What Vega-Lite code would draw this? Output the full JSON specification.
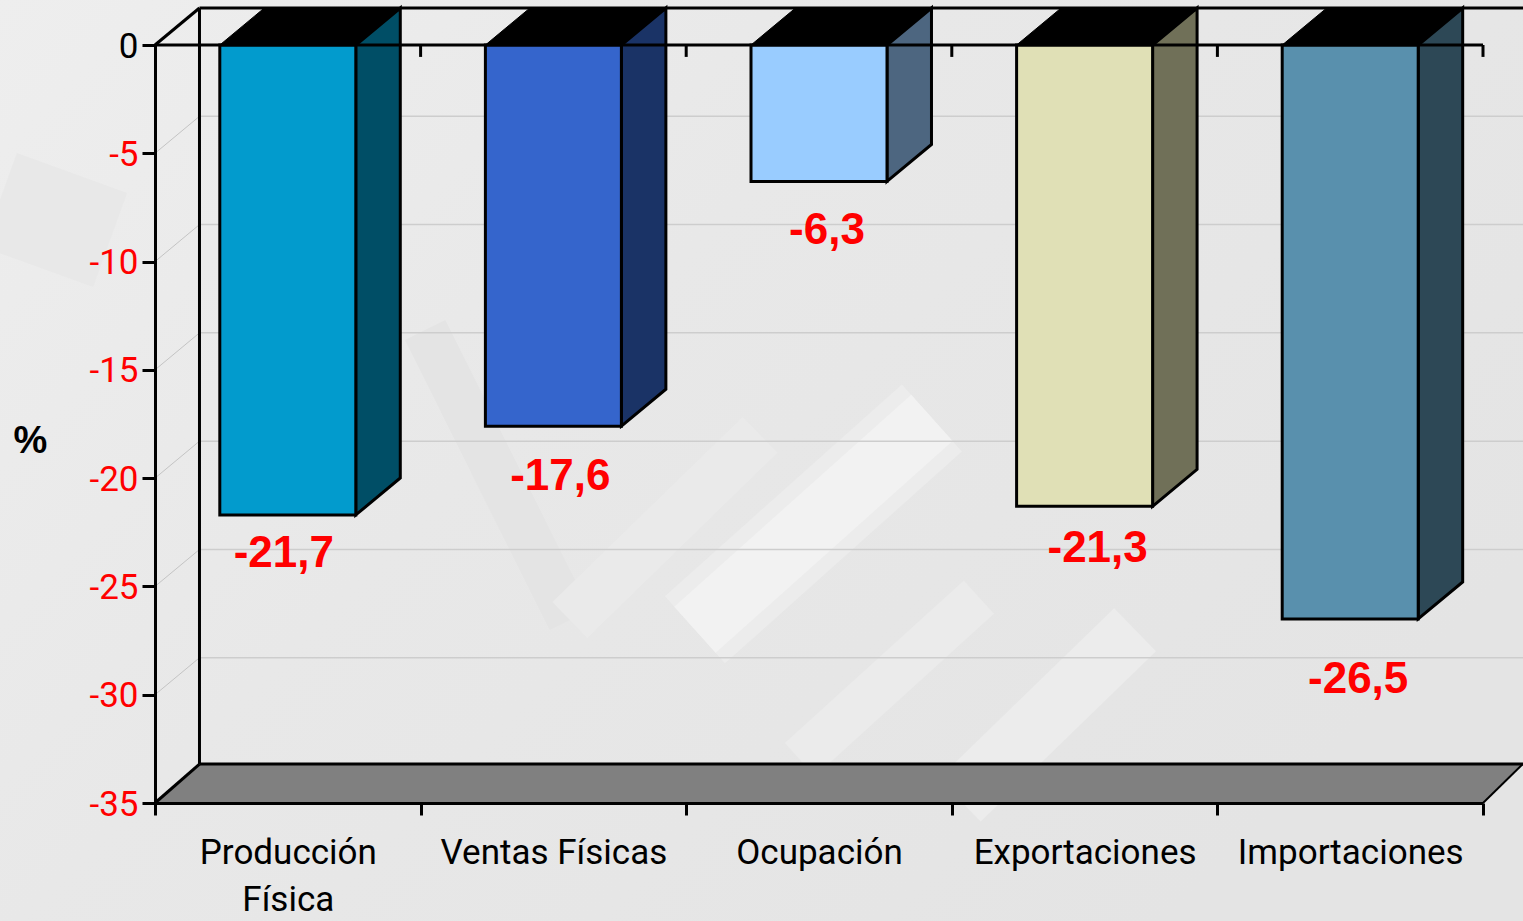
{
"$schema":"https://vega.github.io/schema/vega-lite/v6.json",
"width":1328,"height":758,
"autosize":"none",
"padding":{"left":155,"top":45,"right":40,"bottom":118},
"background":"#e8e8e8",
"config":{"view":{"stroke":null}},
"datasets":{
"bars":[
{"category":"Producción Física","value":-21.7},
{"category":"Ventas Físicas","value":-17.6},
{"category":"Ocupación","value":-6.3},
{"category":"Exportaciones","value":-21.3},
{"category":"Importaciones","value":-26.5}
],
"levels":[{"level":-5},{"level":-10},{"level":-15},{"level":-20},{"level":-25},{"level":-30}]
},
"resolve":{"scale":{"x":"independent"},"axis":{"x":"independent","y":"independent"}},
"layer":[
{
"layer":[
{"data":{"values":[{"part":"backdrop"}]},
"mark":{"type":"rect","fill":{"gradient":"linear","x1":0,"y1":0,"x2":1,"y2":0.6,"stops":[{"offset":0,"color":"#eeeeee"},{"offset":0.45,"color":"#e8e8e8"},{"offset":1,"color":"#e4e4e4"}]}},
"encoding":{"x":{"datum":-0.6,"type":"quantitative","axis":null,"scale":{"domain":[0,5]}},"x2":{"datum":5.2},"y":{"datum":2.2,"type":"quantitative","axis":null,"scale":{"domain":[-35,0]}},"y2":{"datum":-40.5}}},
{"data":{"values":[{"part":"shadeLeft"}]},"mark":{"type":"rule","color":"#e8e8e8","strokeWidth":100},
"encoding":{"x":{"datum":-0.584,"type":"quantitative","axis":null},"x2":{"datum":-0.169},"y":{"datum":-7.16,"type":"quantitative","axis":null},"y2":{"datum":-9}}},
{"data":{"values":[{"part":"shadeMid"}]},"mark":{"type":"rule","color":"#e4e4e4","strokeWidth":45},
"encoding":{"x":{"datum":1.017,"type":"quantitative","axis":null},"x2":{"datum":1.562},"y":{"datum":-13.16,"type":"quantitative","axis":null},"y2":{"datum":-26.55}}},
{"data":{"values":[{"part":"brush4"}]},"mark":{"type":"rule","color":"#eaeaea","strokeWidth":50},
"encoding":{"x":{"datum":2.278,"type":"quantitative","axis":null},"x2":{"datum":1.562},"y":{"datum":-18,"type":"quantitative","axis":null},"y2":{"datum":-26.55}}},
{"data":{"values":[{"part":"brush1halo"}]},"mark":{"type":"rule","color":"#ececec","strokeWidth":90},
"encoding":{"x":{"datum":2.925,"type":"quantitative","axis":null},"x2":{"datum":2.033},"y":{"datum":-17.22,"type":"quantitative","axis":null},"y2":{"datum":-27}}},
{"data":{"values":[{"part":"brush1"}]},"mark":{"type":"rule","color":"#f2f2f2","strokeWidth":62},
"encoding":{"x":{"datum":2.925,"type":"quantitative","axis":null},"x2":{"datum":2.033},"y":{"datum":-17.22,"type":"quantitative","axis":null},"y2":{"datum":-27}}},
{"data":{"values":[{"part":"brush2"}]},"mark":{"type":"rule","color":"#ebebeb","strokeWidth":45},
"encoding":{"x":{"datum":3.102,"type":"quantitative","axis":null},"x2":{"datum":2.428},"y":{"datum":-25.49,"type":"quantitative","axis":null},"y2":{"datum":-33}}},
{"data":{"values":[{"part":"brush3"}]},"mark":{"type":"rule","color":"#ececec","strokeWidth":60},
"encoding":{"x":{"datum":3.69,"type":"quantitative","axis":null},"x2":{"datum":3.03},"y":{"datum":-27,"type":"quantitative","axis":null},"y2":{"datum":-34.86}}},
{"data":{"name":"levels"},"transform":[{"calculate":"datum.level+1.708","as":"back"}],
"mark":{"type":"rule","color":"#c4c4c4","strokeWidth":1},
"encoding":{"x":{"datum":0,"type":"quantitative","axis":null},"x2":{"datum":0.1675},"y":{"field":"level","type":"quantitative","axis":null},"y2":{"field":"back"}}},
{"data":{"name":"levels"},"transform":[{"calculate":"datum.level+1.708","as":"back"}],
"mark":{"type":"rule","color":"#cdcdcd","strokeWidth":1.5},
"encoding":{"x":{"datum":0.1675,"type":"quantitative","axis":null},"x2":{"datum":5.2},"y":{"field":"back","type":"quantitative","axis":null}}},
{"data":{"values":[{"level":-35},{"level":-33.2}]},
"transform":[{"calculate":"datum.level==-35?0:0.1675","as":"from"},{"calculate":"datum.level==-35?5:5.15","as":"to"}],
"mark":{"type":"area","orient":"horizontal","fill":"#808080"},
"encoding":{"y":{"field":"level","type":"quantitative","axis":null},"x":{"field":"from","type":"quantitative","axis":null},"x2":{"field":"to"}}},
{"data":{"values":[{"part":"backVertical"}]},"mark":{"type":"rule","color":"black","strokeWidth":3},
"encoding":{"x":{"datum":0.1675,"type":"quantitative","axis":null},"y":{"datum":1.708,"type":"quantitative","axis":null},"y2":{"datum":-33.2}}},
{"data":{"values":[{"part":"backTop"}]},"mark":{"type":"rule","color":"black","strokeWidth":3},
"encoding":{"x":{"datum":0.1675,"type":"quantitative","axis":null},"x2":{"datum":5.2},"y":{"datum":1.708,"type":"quantitative","axis":null}}},
{"data":{"values":[{"part":"floorBack"}]},"mark":{"type":"rule","color":"black","strokeWidth":3},
"encoding":{"x":{"datum":0.1675,"type":"quantitative","axis":null},"x2":{"datum":5.2},"y":{"datum":-33.2,"type":"quantitative","axis":null}}},
{"data":{"values":[{"part":"diagTop"}]},"mark":{"type":"rule","color":"black","strokeWidth":3},
"encoding":{"x":{"datum":0,"type":"quantitative","axis":null},"x2":{"datum":0.1675},"y":{"datum":0,"type":"quantitative","axis":null},"y2":{"datum":1.708}}},
{"data":{"values":[{"part":"diagBottom"}]},"mark":{"type":"rule","color":"black","strokeWidth":3},
"encoding":{"x":{"datum":0,"type":"quantitative","axis":null},"x2":{"datum":0.1675},"y":{"datum":-35,"type":"quantitative","axis":null},"y2":{"datum":-33.2}}},
{"data":{"values":[{"part":"diagRight"}]},"mark":{"type":"rule","color":"black","strokeWidth":2},
"encoding":{"x":{"datum":5,"type":"quantitative","axis":null},"x2":{"datum":5.15},"y":{"datum":-35,"type":"quantitative","axis":null},"y2":{"datum":-33.2}}},
{"data":{"name":"bars"},
"transform":[{"window":[{"op":"row_number","as":"n"}]},{"calculate":"[0,1]","as":"d"},{"flatten":["d"]},
{"calculate":"datum.n-0.5+0.256+datum.d*0.1675","as":"xq"},{"calculate":"datum.d*1.708","as":"y0"},{"calculate":"datum.value+datum.d*1.708","as":"y1"}],
"mark":{"type":"area","orient":"vertical","stroke":"black","strokeWidth":3,"strokeJoin":"miter"},
"encoding":{"x":{"field":"xq","type":"quantitative","axis":null},"y":{"field":"y1","type":"quantitative","axis":null},"y2":{"field":"y0"},
"fill":{"field":"category","type":"nominal","legend":null,"scale":{"domain":["Producción Física","Ventas Físicas","Ocupación","Exportaciones","Importaciones"],"range":["#004e66","#1a3366","#4d6680","#707058","#2d4856"]}}}},
{"data":{"name":"bars"},
"transform":[{"window":[{"op":"row_number","as":"n"}]},{"calculate":"[0,1]","as":"d"},{"flatten":["d"]},
{"calculate":"datum.n-0.5-0.256+datum.d*0.1675","as":"xa"},{"calculate":"datum.n-0.5+0.256+datum.d*0.1675","as":"xb"},{"calculate":"datum.d*1.708","as":"lev"}],
"mark":{"type":"area","orient":"horizontal","fill":"black","stroke":"black","strokeWidth":1},
"encoding":{"detail":{"field":"category"},"y":{"field":"lev","type":"quantitative","axis":null},"x":{"field":"xa","type":"quantitative","axis":null},"x2":{"field":"xb"}}},
{"data":{"name":"bars"},
"transform":[{"window":[{"op":"row_number","as":"n"}]},
{"calculate":"{'Producción Física':-0.015,'Ventas Físicas':0.026,'Ocupación':0.03,'Exportaciones':0.049,'Importaciones':0.03}[datum.category]","as":"nudge"},
{"calculate":"{'Producción Física':1.82,'Ventas Físicas':2.37,'Ocupación':2.31,'Exportaciones':1.96,'Importaciones':2.84}[datum.category]","as":"drop"},
{"calculate":"datum.n-0.5+datum.nudge","as":"lx"},{"calculate":"datum.value-datum.drop","as":"ly"},
{"calculate":"replace(''+datum.value,'.',',')","as":"label"}],
"mark":{"type":"text","font":"Liberation Sans","fontWeight":"bold","fontSize":44,"color":"#ff0000","align":"center","baseline":"middle"},
"encoding":{"x":{"field":"lx","type":"quantitative","axis":null},"y":{"field":"ly","type":"quantitative","axis":null},"text":{"field":"label"}}}
]
},
{
"data":{"name":"bars"},
"mark":{"type":"bar","width":136,"stroke":"black","strokeWidth":3},
"encoding":{
"x":{"field":"category","type":"nominal","sort":null,"scale":{"padding":0},
"axis":{"orient":"bottom","title":null,"tickBand":"extent","domainColor":"black","domainWidth":3,"tickColor":"black","tickWidth":3,"tickSize":12,"labelAngle":0,"labelFont":"Roboto","labelFontSize":35,"labelColor":"black","labelPadding":20,"labelLineHeight":47,"labelLimit":0,"labelBaseline":"top","zindex":1,
"labelExpr":"datum.label=='Producción Física'?['Producción','Física']:datum.label"}},
"y":{"field":"value","type":"quantitative","stack":null,"scale":{"domain":[-35,0]},
"axis":{"title":"%","titleAngle":0,"titleFont":"Liberation Sans","titleFontWeight":"bold","titleFontSize":38,"titleColor":"black","titleX":-125,"titleY":415,"values":[0,-5,-10,-15,-20,-25,-30,-35],"grid":false,"domainColor":"black","domainWidth":3,"tickColor":"black","tickWidth":3,"tickSize":13,"labelFont":"Roboto","labelFontSize":35,"labelPadding":4,"labelLimit":0,"labelOffset":1,"zindex":1,
"labelExpr":"''+datum.value","labelColor":{"condition":{"test":"datum.value==0","value":"black"},"value":"#ff0000"}}},
"color":{"field":"category","type":"nominal","legend":null,"scale":{"domain":["Producción Física","Ventas Físicas","Ocupación","Exportaciones","Importaciones"],"range":["#029bcd","#3565cc","#99ccff","#e0e0b6","#5990ad"]}}
}
},
{
"layer":[
{"data":{"values":[{"part":"topEdge"}]},"mark":{"type":"rule","color":"black","strokeWidth":3},
"encoding":{"x":{"datum":0,"type":"quantitative","axis":null,"scale":{"domain":[0,5]}},"x2":{"datum":5},"y":{"datum":0,"type":"quantitative","axis":null}}},
{"data":{"name":"bars"},"transform":[{"window":[{"op":"row_number","as":"n"}]}],
"mark":{"type":"rule","color":"black","strokeWidth":3},
"encoding":{"x":{"field":"n","type":"quantitative","axis":null},"y":{"datum":0,"type":"quantitative","axis":null},"y2":{"datum":-0.55}}}
]
}
]
}
